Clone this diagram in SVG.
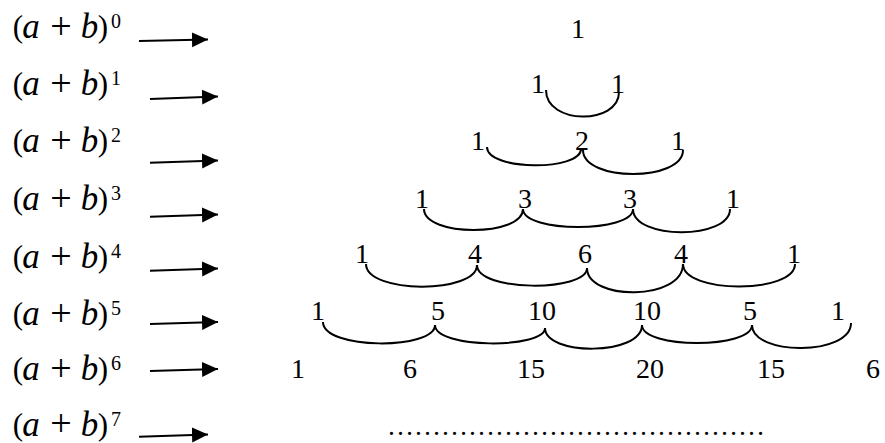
<svg xmlns="http://www.w3.org/2000/svg" width="885" height="443" viewBox="0 0 885 443">
<style>
.p{font-family:"Liberation Serif",serif;font-size:31px;text-anchor:middle;fill:#000}
.v{font-family:"Liberation Serif",serif;font-size:35px;font-style:italic;text-anchor:middle;fill:#000}
.op{font-family:"Liberation Serif",serif;font-size:38px;text-anchor:middle;fill:#000}
.sup{font-family:"Liberation Serif",serif;font-size:20px;text-anchor:middle;fill:#000}
.n{font-family:"Liberation Serif",serif;font-size:28px;text-anchor:middle;fill:#000}
.dots{font-family:"Liberation Serif",serif;font-size:27px;fill:#000}
.arr{stroke:#000;stroke-width:2;fill:none;marker-end:url(#ah)}
.br{stroke:#000;stroke-width:2;fill:none}
</style>
<defs>
<marker id="ah" markerUnits="userSpaceOnUse" markerWidth="16" markerHeight="16" refX="16" refY="7.5" orient="auto">
<path d="M0,0 L16,7.5 L0,15 z" fill="#000"/>
</marker>
</defs>
<rect width="885" height="443" fill="#fff"/>
<g id="labels">
<g id="label-0"><text><tspan class="p" x="18" y="36.5">(</tspan><tspan class="v" x="31" y="38">a</tspan><tspan class="op" x="61" y="38.5">+</tspan><tspan class="v" x="89.5" y="38">b</tspan><tspan class="p" x="103" y="36.5">)</tspan><tspan class="sup" x="116" y="27.5">0</tspan></text></g>
<g id="label-1"><text><tspan class="p" x="18" y="93.5">(</tspan><tspan class="v" x="31" y="95">a</tspan><tspan class="op" x="61" y="95.5">+</tspan><tspan class="v" x="89.5" y="95">b</tspan><tspan class="p" x="103" y="93.5">)</tspan><tspan class="sup" x="116" y="84.5">1</tspan></text></g>
<g id="label-2"><text><tspan class="p" x="18" y="150.5">(</tspan><tspan class="v" x="31" y="152">a</tspan><tspan class="op" x="61" y="152.5">+</tspan><tspan class="v" x="89.5" y="152">b</tspan><tspan class="p" x="103" y="150.5">)</tspan><tspan class="sup" x="116" y="141.5">2</tspan></text></g>
<g id="label-3"><text><tspan class="p" x="18" y="208.5">(</tspan><tspan class="v" x="31" y="210">a</tspan><tspan class="op" x="61" y="210.5">+</tspan><tspan class="v" x="89.5" y="210">b</tspan><tspan class="p" x="103" y="208.5">)</tspan><tspan class="sup" x="116" y="199.5">3</tspan></text></g>
<g id="label-4"><text><tspan class="p" x="18" y="266.5">(</tspan><tspan class="v" x="31" y="268">a</tspan><tspan class="op" x="61" y="268.5">+</tspan><tspan class="v" x="89.5" y="268">b</tspan><tspan class="p" x="103" y="266.5">)</tspan><tspan class="sup" x="116" y="257.5">4</tspan></text></g>
<g id="label-5"><text><tspan class="p" x="18" y="323.5">(</tspan><tspan class="v" x="31" y="325">a</tspan><tspan class="op" x="61" y="325.5">+</tspan><tspan class="v" x="89.5" y="325">b</tspan><tspan class="p" x="103" y="323.5">)</tspan><tspan class="sup" x="116" y="314.5">5</tspan></text></g>
<g id="label-6"><text><tspan class="p" x="18" y="378.5">(</tspan><tspan class="v" x="31" y="380">a</tspan><tspan class="op" x="61" y="380.5">+</tspan><tspan class="v" x="89.5" y="380">b</tspan><tspan class="p" x="103" y="378.5">)</tspan><tspan class="sup" x="116" y="369.5">6</tspan></text></g>
<g id="label-7"><text><tspan class="p" x="18" y="434.5">(</tspan><tspan class="v" x="31" y="436">a</tspan><tspan class="op" x="61" y="435.5">+</tspan><tspan class="v" x="89.5" y="436">b</tspan><tspan class="p" x="103" y="434.5">)</tspan><tspan class="sup" x="116" y="425.5">7</tspan></text></g>
</g>
<g id="row-0"><text class="n" x="578" y="38">1</text></g>
<g id="row-1"><text class="n" x="538" y="93">1</text><text class="n" x="618" y="93">1</text></g>
<g id="row-2"><text class="n" x="478" y="150">1</text><text class="n" x="582" y="150">2</text><text class="n" x="678" y="150">1</text></g>
<g id="row-3"><text class="n" x="422" y="208">1</text><text class="n" x="525" y="208">3</text><text class="n" x="630" y="208">3</text><text class="n" x="733" y="208">1</text></g>
<g id="row-4"><text class="n" x="362" y="263">1</text><text class="n" x="475" y="263">4</text><text class="n" x="585" y="263">6</text><text class="n" x="681" y="263">4</text><text class="n" x="794" y="263">1</text></g>
<g id="row-5"><text class="n" x="318" y="320">1</text><text class="n" x="438" y="320">5</text><text class="n" x="542" y="320">10</text><text class="n" x="647" y="320">10</text><text class="n" x="750" y="320">5</text><text class="n" x="838" y="320">1</text></g>
<g id="row-6"><text class="n" x="298" y="378">1</text><text class="n" x="410" y="378">6</text><text class="n" x="531" y="378">15</text><text class="n" x="650" y="378">20</text><text class="n" x="771" y="378">15</text><text class="n" x="873" y="378">6</text></g>
<g id="row-7"><text class="dots" x="387" y="435">……………………………………</text></g>
<g id="connectors">
<line class="arr" x1="139" y1="41" x2="208" y2="39.5"/>
<line class="arr" x1="150" y1="99" x2="218" y2="96.5"/>
<line class="arr" x1="150" y1="162.7" x2="218" y2="160.5"/>
<line class="arr" x1="150" y1="216.7" x2="218" y2="214.5"/>
<line class="arr" x1="150" y1="270.7" x2="218" y2="268.5"/>
<line class="arr" x1="150" y1="324" x2="218" y2="322"/>
<line class="arr" x1="150" y1="371" x2="218" y2="369"/>
<line class="arr" x1="139" y1="436.7" x2="208" y2="434.5"/>
<path class="br" d="M546,90 C546,125 619,125 619,92"/>
<path class="br" d="M487,147 C487,171 581,171 581,149"/>
<path class="br" d="M583,150 C583,182 683,182 683,150"/>
<path class="br" d="M424,209 C424,237 523,237 523,209"/>
<path class="br" d="M523,209 C523,233 633,233 633,209"/>
<path class="br" d="M633,209 C633,240 730,240 730,209"/>
<path class="br" d="M366,264 C366,294 477,294 477,265"/>
<path class="br" d="M477,265 C477,292 587,292 587,268"/>
<path class="br" d="M587,268 C587,301 683,301 683,264"/>
<path class="br" d="M683,264 C683,294 795,294 795,264"/>
<path class="br" d="M323,322 C323,350 435,350 435,325"/>
<path class="br" d="M435,325 C435,349 545,349 545,328"/>
<path class="br" d="M545,328 C545,356 642,356 642,325"/>
<path class="br" d="M642,325 C642,349 752,349 752,325"/>
<path class="br" d="M752,325 C752,356 851,356 851,323"/>
</g>
</svg>
